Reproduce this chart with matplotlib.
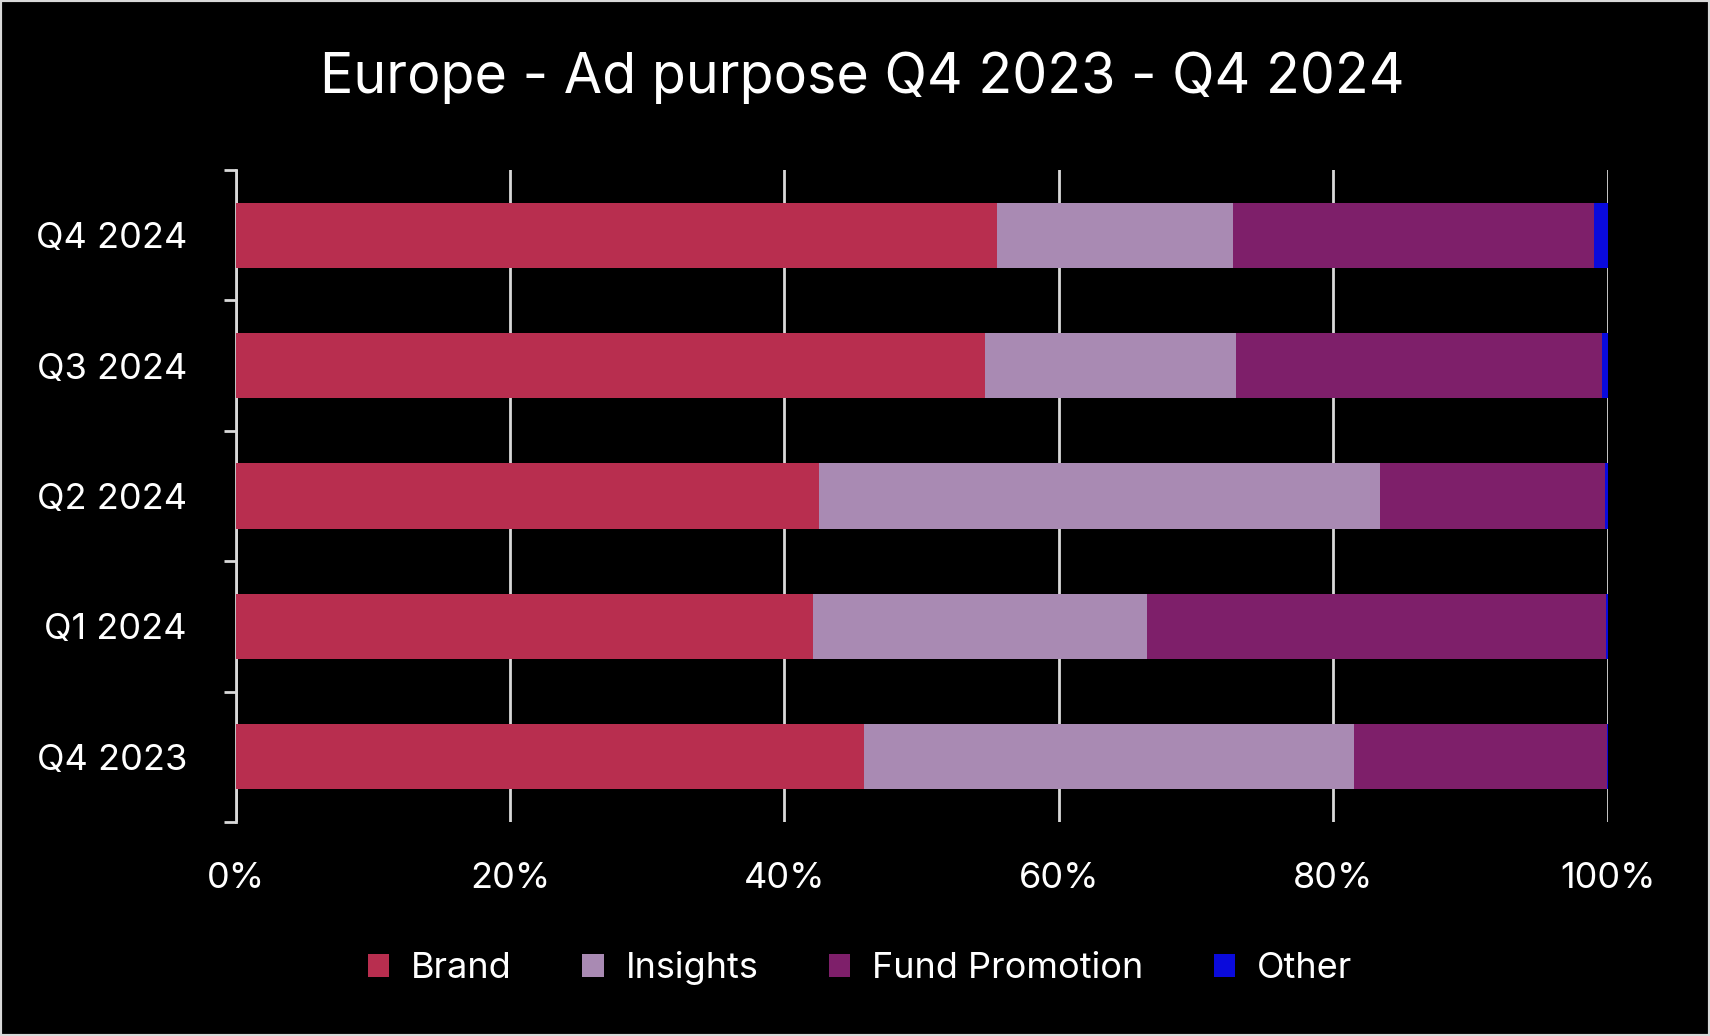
"""Europe ad purpose stacked bar chart, Q4 2023 - Q4 2024."""

import matplotlib
matplotlib.use("Agg")
import matplotlib.pyplot as plt
from matplotlib.patches import Rectangle
from matplotlib.ticker import FixedLocator, PercentFormatter

quarters = ["Q4 2023", "Q1 2024", "Q2 2024", "Q3 2024", "Q4 2024"]
brand = [45.8, 42.1, 42.5, 54.6, 55.5]
insights = [35.7, 24.3, 40.9, 18.3, 17.2]
fund_promotion = [18.45, 33.48, 16.4, 26.69, 26.32]
other = [0.05, 0.12, 0.2, 0.41, 0.98]

series_names = ["Brand", "Insights", "Fund Promotion", "Other"]
series_colors = ["#B82E4F", "#A98AB3", "#7E1F6A", "#0A0ADC"]

plt.rcParams["font.family"] = ["Inter", "DejaVu Sans"]
fg = "#FFFFFF"
line_col = "#D9D9D9"

fig = plt.figure(figsize=(17.1, 10.36), dpi=100, facecolor="black")
ax = fig.add_axes([235.6 / 1710, 1 - 822 / 1036, 1372 / 1710, 652 / 1036])
ax.set_facecolor("black")

y = range(len(quarters))
left = [0.0] * len(quarters)
for name, values, color in zip(series_names,
                               [brand, insights, fund_promotion, other],
                               series_colors):
    ax.barh(y, values, left=left, height=0.5, color=color, label=name,
            zorder=3)
    left = [a + b for a, b in zip(left, values)]

ax.set_xlim(0, 100)
ax.set_ylim(-0.5, len(quarters) - 0.5)
ax.xaxis.set_major_locator(FixedLocator([0, 20, 40, 60, 80, 100]))
ax.xaxis.set_major_formatter(PercentFormatter(decimals=0))
ax.grid(axis="x", color=line_col, linewidth=2, zorder=0)
ax.tick_params(axis="x", length=0, colors=fg, labelsize=26, pad=29)

ax.set_yticks(list(y))
ax.set_yticklabels(quarters)
ax.yaxis.set_minor_locator(FixedLocator([i - 0.5 for i in range(len(quarters) + 1)]))
ax.tick_params(axis="y", which="major", length=0, labelcolor=fg,
               labelsize=26, pad=35)
ax.tick_params(axis="y", which="minor", length=9, width=2, color=line_col)

for side in ["top", "right", "bottom"]:
    ax.spines[side].set_visible(False)
ax.spines["left"].set_color(line_col)
ax.spines["left"].set_linewidth(2)

fig.text(862 / 1710, 1 - 78 / 1036, "Europe - Ad purpose Q4 2023 - Q4 2024",
         color=fg, fontsize=40, ha="center", va="center")

fig.legend(loc="center", bbox_to_anchor=(860 / 1710, 1 - 968 / 1036), ncol=4,
           frameon=False, fontsize=26, labelcolor=fg, handlelength=0.6,
           handleheight=0.6, columnspacing=1.95, handletextpad=0.6)

fig.patches.append(Rectangle((0, 0), 1, 1, transform=fig.transFigure,
                             fill=False, edgecolor=line_col, linewidth=3))

fig.savefig("out.png", dpi=100, facecolor="black")
